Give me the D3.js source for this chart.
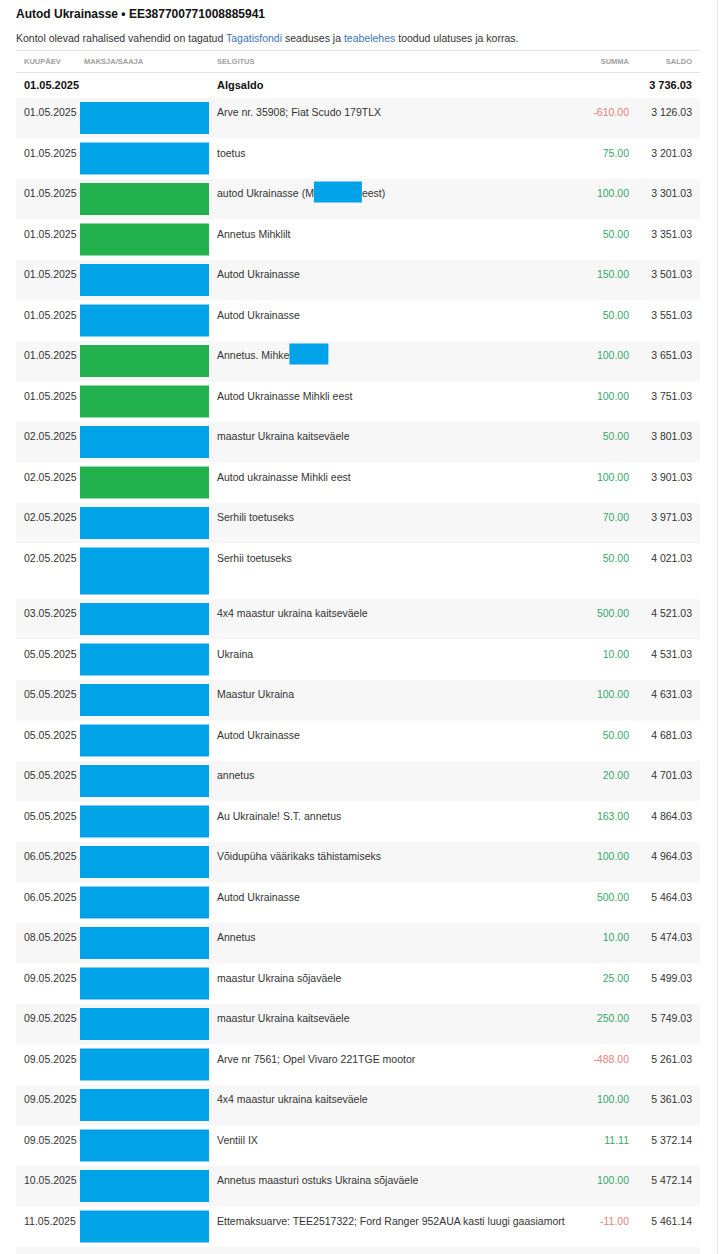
<!DOCTYPE html>
<html>
<head>
<meta charset="utf-8">
<script src="https://cdn.jsdelivr.net/npm/d3@7/dist/d3.min.js"></script>
<style>
	html, body { margin: 0; padding: 0; background: #fff; }
	svg { display: block; font-family: "Liberation Sans", Arial, Helvetica, sans-serif; }
</style>
</head>
<body>
<div id="statement"></div>
<script>
	// statement data
	var title = "Autod Ukrainasse \u2022 EE387700771008885941";
	var noteParts = [
		["Kontol olevad rahalised vahendid on tagatud ", false],
		["Tagatisfondi", true],
		[" seaduses ja ", false],
		["teabelehes", true],
		[" toodud ulatuses ja korras.", false]
	];
	var headers = ["KUUP\u00c4EV", "MAKSJA/SAAJA", "SELGITUS", "SUMMA", "SALDO"];
	var openingDate = "01.05.2025";
	var openingLabel = "Algsaldo";
	var openingBalance = 3736.03;

	var dates = [
		"01.05.2025", "01.05.2025", "01.05.2025", "01.05.2025", "01.05.2025", "01.05.2025", "01.05.2025",
		"01.05.2025", "02.05.2025", "02.05.2025", "02.05.2025", "02.05.2025", "03.05.2025", "05.05.2025",
		"05.05.2025", "05.05.2025", "05.05.2025", "05.05.2025", "06.05.2025", "06.05.2025", "08.05.2025",
		"09.05.2025", "09.05.2025", "09.05.2025", "09.05.2025", "09.05.2025", "10.05.2025", "11.05.2025"
	];
	// payer names are painted over: b = blue, g = green
	var payerMask = [
		"b", "b", "g", "g", "b", "b", "g", "g", "b", "g", "b", "b", "b", "b",
		"b", "b", "b", "b", "b", "b", "b", "b", "b", "b", "b", "b", "b", "b"
	];
	// lines the hidden payer name took
	var payerLines = [
		1, 1, 1, 1, 1, 1, 1, 1, 1, 1, 1, 2, 1, 1,
		1, 1, 1, 1, 1, 1, 1, 1, 1, 1, 1, 1, 1, 1
	];
	// "\u25ae" marks a painted-over part of the text
	var descriptions = [
		"Arve nr. 35908; Fiat Scudo 179TLX",
		"toetus",
		"autod Ukrainasse (M\u25aeeest)",
		"Annetus Mihklilt",
		"Autod Ukrainasse",
		"Autod Ukrainasse",
		"Annetus. Mihke\u25ae",
		"Autod Ukrainasse Mihkli eest",
		"maastur Ukraina kaitsev\u00e4ele",
		"Autod ukrainasse Mihkli eest",
		"Serhili toetuseks",
		"Serhii toetuseks",
		"4x4 maastur ukraina kaitsev\u00e4ele",
		"Ukraina",
		"Maastur Ukraina",
		"Autod Ukrainasse",
		"annetus",
		"Au Ukrainale! S.T. annetus",
		"V\u00f5idup\u00fcha v\u00e4\u00e4rikaks t\u00e4histamiseks",
		"Autod Ukrainasse",
		"Annetus",
		"maastur Ukraina s\u00f5jav\u00e4ele",
		"maastur Ukraina kaitsev\u00e4ele",
		"Arve nr 7561; Opel Vivaro 221TGE mootor",
		"4x4 maastur ukraina kaitsev\u00e4ele",
		"Ventiil IX",
		"Annetus maasturi ostuks Ukraina s\u00f5jav\u00e4ele",
		"Ettemaksuarve: TEE2517322; Ford Ranger 952AUA kasti luugi gaasiamort"
	];
	var amounts = [
		-610.00, 75.00, 100.00, 50.00, 150.00, 50.00, 100.00, 100.00, 50.00, 100.00, 70.00, 50.00, 500.00, 10.00,
		100.00, 50.00, 20.00, 163.00, 100.00, 500.00, 10.00, 25.00, 250.00, -488.00, 100.00, 11.11, 100.00, -11.00
	];
	var balances = [
		3126.03, 3201.03, 3301.03, 3351.03, 3501.03, 3551.03, 3651.03, 3751.03, 3801.03, 3901.03, 3971.03, 4021.03, 4521.03, 4531.03,
		4631.03, 4681.03, 4701.03, 4864.03, 4964.03, 5464.03, 5474.03, 5499.03, 5749.03, 5261.03, 5361.03, 5372.14, 5472.14, 5461.14
	];

	var W = 719, H = 1254;
	var left = 16, right = 700;
	var fontSize = 10.5;
	var maskColors = {b: "#00a2e8", g: "#22b14c"};
	var maskWidths = [48, 39];

	var locale = d3.formatLocale({decimal: ".", thousands: " ", grouping: [3], currency: ["", ""], minus: "-"});
	var money = locale.format(",.2f");

	var svg = d3.select("#statement").append("svg")
		.attr("width", W)
		.attr("height", H);

	// page edge on the right
	svg.append("line")
		.attr("x1", 717.5).attr("x2", 717.5)
		.attr("y1", 0).attr("y2", H)
		.attr("stroke", "#e6e6e6");

	svg.append("text")
		.attr("x", left).attr("y", 18)
		.attr("font-size", 12)
		.attr("font-weight", "bold")
		.attr("fill", "#111")
		.text(title);

	var note = svg.append("text")
		.attr("x", left).attr("y", 42)
		.attr("font-size", fontSize)
		.attr("fill", "#333");
	note.selectAll("tspan")
		.data(noteParts)
		.join("tspan")
		.attr("fill", function(d) { return d[1] ? "#3d74b8" : "#333"; })
		.text(function(d) { return d[0]; });

	// columns
	var keys = ["date", "payer", "desc", "amount", "balance"];
	var x = d3.scaleOrdinal().domain(keys).range([24, 84, 217, 629, 692]);
	var anchor = d3.scaleOrdinal().domain(keys).range(["start", "start", "start", "end", "end"]);

	// rows
	var heights = payerLines.map(function(n) { return 25.5 + 15 * n; });
	var tops = [0].concat(Array.from(d3.cumsum(heights)));
	var y = d3.scaleLinear().domain([0, 1]).range([98, 99]);

	// header
	svg.append("g").selectAll("text")
		.data(headers)
		.join("text")
		.attr("x", function(d, i) { return x(keys[i]); })
		.attr("y", 64)
		.attr("text-anchor", function(d, i) { return anchor(keys[i]); })
		.attr("font-size", 7.5)
		.attr("font-weight", "bold")
		.attr("fill", "#a0a0a0")
		.text(function(d) { return d; });

	[50, 72, 98].forEach(function(v) {
		svg.append("line")
			.attr("x1", left).attr("x2", right)
			.attr("y1", v + 0.5).attr("y2", v + 0.5)
			.attr("stroke", "#e3e3e3");
	});

	// opening balance
	var open = svg.append("g").attr("font-size", fontSize + 0.5).attr("font-weight", "bold").attr("fill", "#111");
	open.append("text").attr("x", x("date")).attr("y", 89).text(openingDate);
	open.append("text").attr("x", x("desc")).attr("y", 89).text(openingLabel);
	open.append("text").attr("x", x("balance")).attr("y", 89).attr("text-anchor", "end").text(money(openingBalance));

	var rowIdx = d3.range(dates.length);

	// zebra bands, plus the start of the next band at the bottom
	svg.append("g").selectAll("rect")
		.data(rowIdx.concat([dates.length]).filter(function(i) { return i % 2 === 0; }))
		.join("rect")
		.attr("x", left)
		.attr("width", right - left)
		.attr("y", function(i) { return y(tops[i]); })
		.attr("height", function(i) { return i < dates.length ? heights[i] : H - y(tops[i]); })
		.attr("fill", "#f7f7f7");

	var rows = svg.append("g").selectAll("g")
		.data(rowIdx)
		.join("g")
		.attr("transform", function(i) { return "translate(0," + y(tops[i]) + ")"; })
		.attr("font-size", fontSize)
		.attr("fill", "#333");

	rows.append("text")
		.attr("x", x("date")).attr("y", 18)
		.text(function(i) { return dates[i]; });

	rows.append("rect")
		.attr("x", 80)
		.attr("y", 4)
		.attr("width", 129)
		.attr("height", function(i) { return heights[i] - 8.5; })
		.attr("fill", function(i) { return maskColors[payerMask[i]]; });

	var m = 0;
	rows.each(function(i) {
		var g = d3.select(this);
		var parts = descriptions[i].split("\u25ae");
		var cx = x("desc");
		parts.forEach(function(p, k) {
			if (k > 0) {
				var w = maskWidths[m++];
				g.append("rect")
					.attr("x", cx).attr("y", 2.5)
					.attr("width", w).attr("height", 21)
					.attr("fill", maskColors.b);
				cx += w;
			}
			if (p) {
				var t = g.append("text").attr("x", cx).attr("y", 18).text(p);
				cx += t.node().getComputedTextLength();
			}
		});
	});

	rows.append("text")
		.attr("x", x("amount")).attr("y", 18)
		.attr("text-anchor", "end")
		.attr("fill", function(i) { return amounts[i] < 0 ? "#e77f7f" : "#35a86c"; })
		.text(function(i) { return money(amounts[i]); });

	rows.append("text")
		.attr("x", x("balance")).attr("y", 18)
		.attr("text-anchor", "end")
		.text(function(i) { return money(balances[i]); });
</script>
</body>
</html>
